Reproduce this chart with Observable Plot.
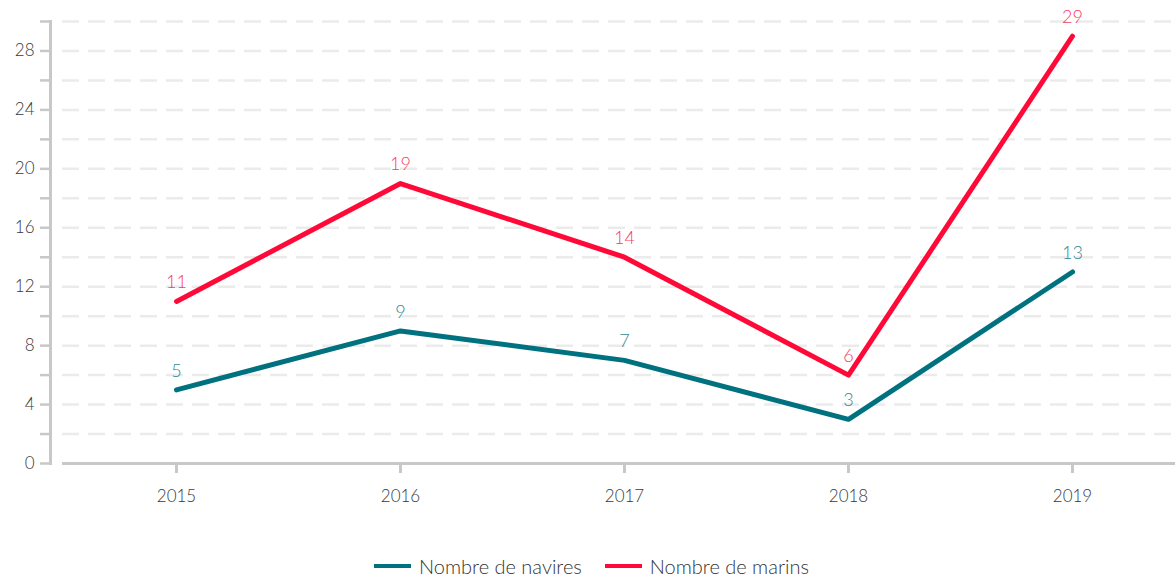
<!DOCTYPE html>
<html><head><meta charset="utf-8">
<script src="https://cdn.jsdelivr.net/npm/d3@7"></script>
<script src="https://cdn.jsdelivr.net/npm/@observablehq/plot@0.6"></script>
<style>
html,body{margin:0;background:#fff;font-family:Lato,"Open Sans",sans-serif;overflow:hidden;}
#legend{position:absolute;top:556px;left:0;width:1175px;display:flex;justify-content:center;align-items:center;gap:23px;font-size:20px;line-height:20px;color:#333;font-weight:300;height:20px;padding-left:8px;box-sizing:border-box}
.item{display:flex;align-items:center;gap:8px}
.sw{width:37px;height:4.5px;display:inline-block}
</style></head><body>
<div id="chart"></div>
<div id="legend"></div>
<script>
const years = ["2015","2016","2017","2018","2019"];
const navires = [5, 9, 7, 3, 13];
const marins = [11, 19, 14, 6, 29];
const seriesNames = ["Nombre de navires", "Nombre de marins"];
const lineColors = ["#00717f", "#ff0a38"];
const labelColors = ["#2f8894", "#f5405c"];
const yTicks = d3.range(0, 31, 2);
const yLabels = d3.range(0, 29, 4);

const rows = [];
[navires, marins].forEach((vals, s) => vals.forEach((v, i) => rows.push({year: years[i], value: v, series: seriesNames[s], s})));

const plot = Plot.plot({
  width: 1175, height: 520,
  marginLeft: 50, marginRight: 0, marginTop: 21, marginBottom: 57,
  style: {fontFamily: "Lato, 'Open Sans', sans-serif", fontSize: "17px", color: "#333"},
  x: {type: "point", domain: years, range: [175, 1073], padding: 0},
  y: {domain: [0, 30]},
  marks: [
    Plot.ruleY(yTicks.filter(d => d > 0), {stroke: "#ebebeb", strokeWidth: 2.5, strokeDasharray: "17,9", insetLeft: 12}),
    Plot.ruleY([0], {stroke: "#c8c8c8", strokeWidth: 3, insetLeft: 12}),
    Plot.frame({anchor: "left", stroke: "#c8c8c8", strokeWidth: 3}),
    Plot.axisY({ticks: yTicks, tickSize: 10, tickPadding: 6, stroke: "#c8c8c8", strokeWidth: 2.5, tickFormat: d => yLabels.includes(d) ? d : "", fill: "#3a3a3a", fontWeight: 300, label: null}),
    Plot.axisX({tickSize: 10, tickPadding: 16, stroke: "#c8c8c8", strokeWidth: 3, fill: "#3a3a3a", fontWeight: 300, label: null}),
    Plot.line(rows, {x: "year", y: "value", z: "series", stroke: "series", strokeWidth: 5}),
    Plot.text(rows.filter(d => d.s === 0), {x: "year", y: "value", text: d => String(d.value), fill: labelColors[0], dy: -19, fontSize: 18, fontWeight: 300}),
    Plot.text(rows.filter(d => d.s === 1), {x: "year", y: "value", text: d => String(d.value), fill: labelColors[1], dy: -19, fontSize: 18, fontWeight: 300})
  ],
  color: {domain: seriesNames, range: lineColors}
});
document.getElementById("chart").appendChild(plot);

const leg = document.getElementById("legend");
seriesNames.forEach((n, i) => {
  const it = document.createElement("div"); it.className = "item";
  const sw = document.createElement("span"); sw.className = "sw"; sw.style.background = lineColors[i];
  const t = document.createElement("span"); t.textContent = n;
  it.appendChild(sw); it.appendChild(t); leg.appendChild(it);
});
</script></body></html>
